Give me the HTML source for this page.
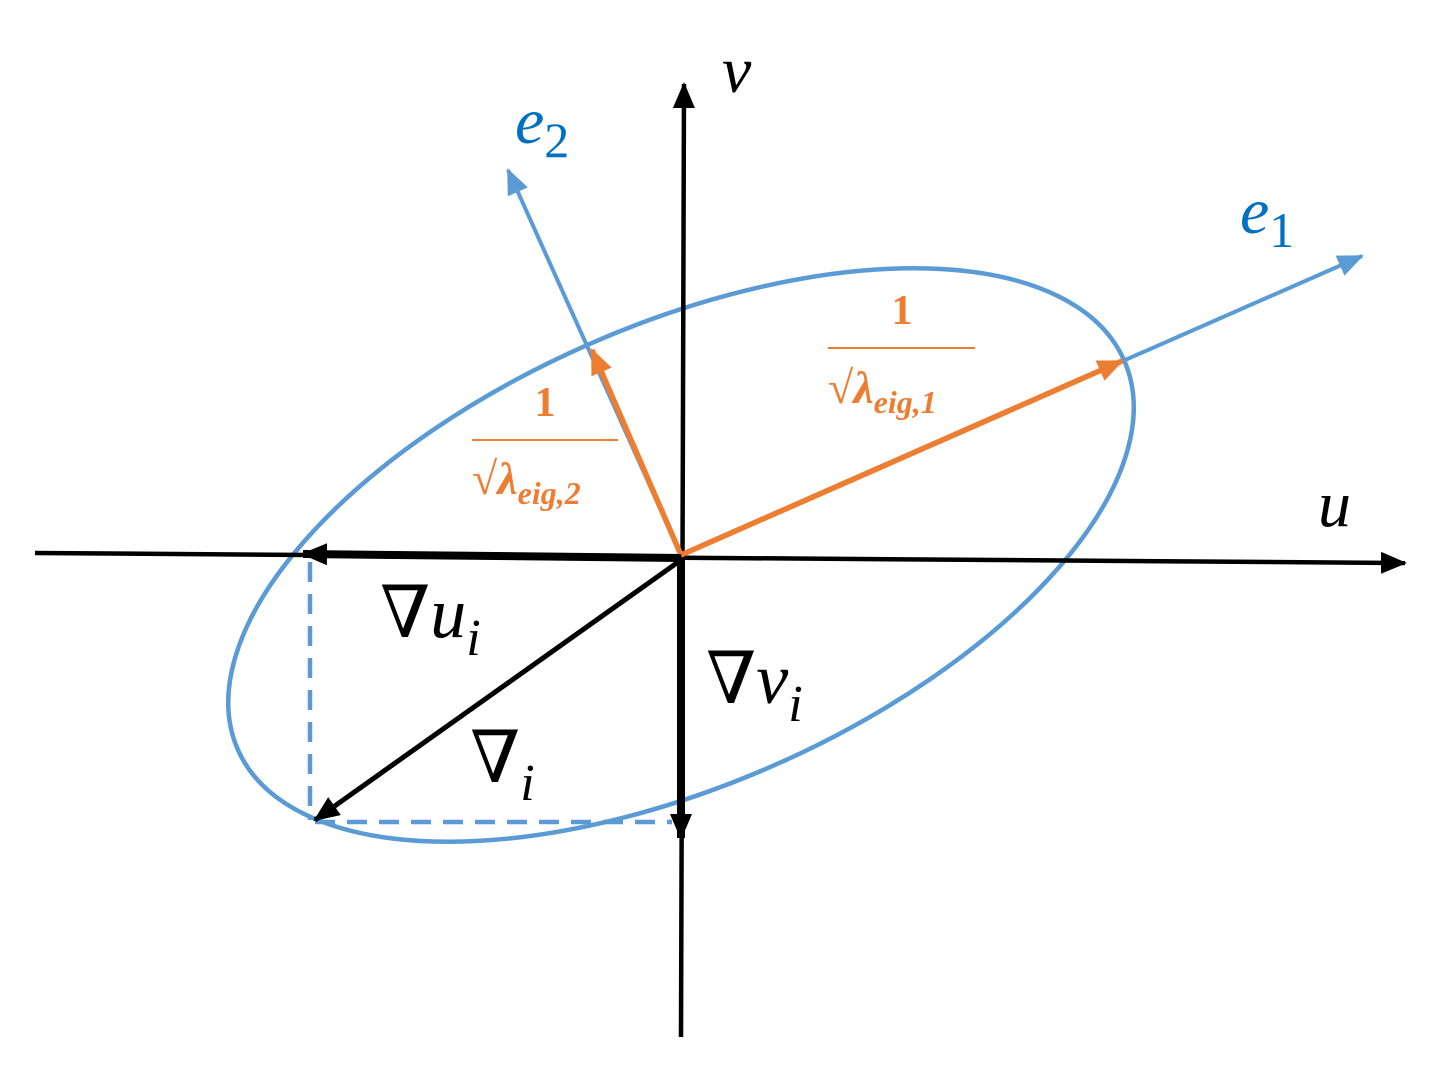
<!DOCTYPE html>
<html><head><style>
html,body{margin:0;padding:0;background:#fff;}
svg text{font-family:"Liberation Serif","DejaVu Serif",serif;}
</style></head><body>
<svg width="1448" height="1076" viewBox="0 0 1448 1076" xmlns="http://www.w3.org/2000/svg">
<defs>
<marker id="akb" markerWidth="26" markerHeight="22" refX="24" refY="11" orient="auto" markerUnits="userSpaceOnUse"><path d="M0,0 L26,11 L0,22z" fill="#000"/></marker>
<marker id="ab" markerWidth="26" markerHeight="22" refX="24" refY="11" orient="auto" markerUnits="userSpaceOnUse"><path d="M0,0 L26,11 L0,22z" fill="#5b9bd5"/></marker>
<marker id="ao" markerWidth="26" markerHeight="22" refX="24" refY="11" orient="auto" markerUnits="userSpaceOnUse"><path d="M0,0 L26,11 L0,22z" fill="#ed7d31"/></marker>
</defs>
<ellipse cx="681" cy="555" rx="484" ry="230" transform="rotate(-23.7 681 555)" fill="none" stroke="#5b9bd5" stroke-width="4.5"/>
<line x1="35" y1="553" x2="1405" y2="563" stroke="#000" stroke-width="4.5" marker-end="url(#akb)"/>
<line x1="681" y1="1037" x2="684" y2="84" stroke="#000" stroke-width="4.5" marker-end="url(#akb)"/>
<line x1="310" y1="562" x2="310" y2="820" stroke="#5b9bd5" stroke-width="4.5" stroke-dasharray="20,12"/>
<line x1="315" y1="822" x2="672" y2="822" stroke="#5b9bd5" stroke-width="4.5" stroke-dasharray="20,12"/>
<line x1="681" y1="555" x2="508" y2="170" stroke="#5b9bd5" stroke-width="4" marker-end="url(#ab)"/>
<line x1="681" y1="555" x2="1362" y2="256" stroke="#5b9bd5" stroke-width="4" marker-end="url(#ab)"/>
<line x1="681" y1="555" x2="592" y2="350" stroke="#ed7d31" stroke-width="5.5" marker-end="url(#ao)"/>
<line x1="681" y1="555" x2="1122" y2="361" stroke="#ed7d31" stroke-width="5.5" marker-end="url(#ao)"/>
<line x1="681" y1="558" x2="303" y2="554" stroke="#000" stroke-width="8" marker-end="url(#akb)"/>
<line x1="681" y1="558" x2="681" y2="838" stroke="#000" stroke-width="8" marker-end="url(#akb)"/>
<line x1="681" y1="560" x2="315" y2="820" stroke="#000" stroke-width="5" marker-end="url(#akb)"/>
<text x="722" y="92" font-size="66" font-style="italic">v</text>
<text x="1318" y="526" font-size="66" font-style="italic">u</text>
<text x="515" y="143" font-size="66" font-style="italic" fill="#0070c0">e<tspan font-size="50" font-style="normal" dy="14">2</tspan></text>
<text x="1240" y="233" font-size="66" font-style="italic" fill="#0070c0">e<tspan font-size="50" font-style="normal" dy="14">1</tspan></text>
<g fill="#ed7d31" font-weight="bold">
<text x="902" y="324" font-size="42" text-anchor="middle">1</text>
<line x1="828" y1="348" x2="975" y2="348" stroke="#ed7d31" stroke-width="2"/>
<text x="828" y="403" font-size="46">√<tspan font-style="italic">λ</tspan><tspan font-style="italic" font-size="32" dy="10">eig,1</tspan></text>
<text x="545" y="416" font-size="42" text-anchor="middle">1</text>
<line x1="472" y1="440" x2="618" y2="440" stroke="#ed7d31" stroke-width="2"/>
<text x="472" y="494" font-size="46">√<tspan font-style="italic">λ</tspan><tspan font-style="italic" font-size="32" dy="10">eig,2</tspan></text>
</g>
<text x="380" y="637" font-size="72">∇<tspan font-style="italic">u</tspan><tspan font-style="italic" font-size="52" dy="18">i</tspan></text>
<text x="706" y="703" font-size="72">∇<tspan font-style="italic">v</tspan><tspan font-style="italic" font-size="52" dy="18">i</tspan></text>
<text x="470" y="782" font-size="72">∇<tspan font-style="italic" font-size="52" dy="18">i</tspan></text>
</svg>
</body></html>
